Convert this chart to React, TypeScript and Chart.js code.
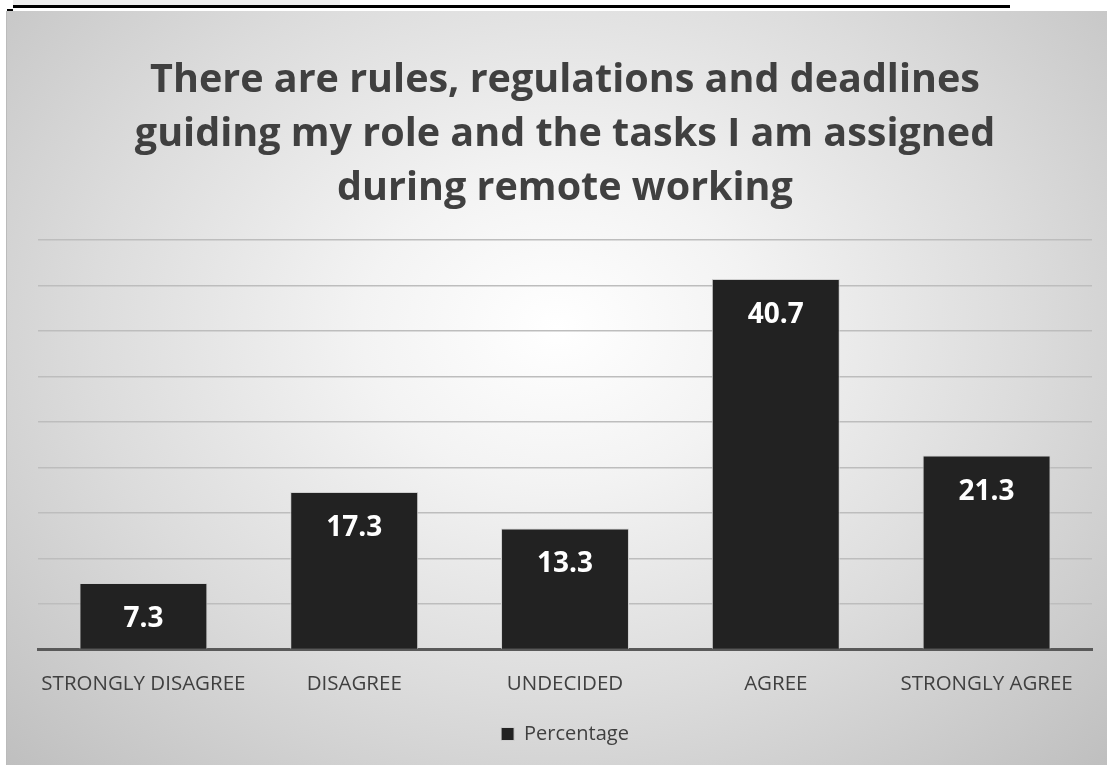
import React, { useEffect, useRef } from "react";
import { Chart, registerables } from "chart.js";

Chart.register(...registerables);

const categories = ["STRONGLY DISAGREE", "DISAGREE", "UNDECIDED", "AGREE", "STRONGLY AGREE"];
const percentages = [7.3, 17.3, 13.3, 40.7, 21.3];
const seriesName = "Percentage";
const titleLines = [
  "There are rules, regulations and deadlines",
  "guiding my role and the tasks I am assigned",
  "during remote working",
];
const yMin = 0;
const yMax = 45;
const yStep = 5;

const FONT = "'Open Sans', 'DejaVu Sans', sans-serif";

const valueLabels = {
  id: "valueLabels",
  afterDatasetsDraw(chart: any) {
    const ctx = chart.ctx;
    const meta = chart.getDatasetMeta(0);
    ctx.save();
    ctx.fillStyle = "#ffffff";
    ctx.font = `bold 28px ${FONT}`;
    ctx.textAlign = "center";
    ctx.textBaseline = "middle";
    meta.data.forEach((bar: any, i: number) => {
      const v = chart.data.datasets[0].data[i];
      ctx.fillText(String(v), bar.x, bar.y + 36);
    });
    ctx.restore();
  },
};

export default function App() {
  const ref = useRef<HTMLCanvasElement | null>(null);
  useEffect(() => {
    if (!ref.current) return;
    const chart = new Chart(ref.current, {
      type: "bar",
      data: {
        labels: categories,
        datasets: [
          {
            label: seriesName,
            data: percentages,
            backgroundColor: "#222222",
            borderColor: "#cfcfcf",
            borderWidth: 1,
            categoryPercentage: 1,
            barPercentage: 0.607,
          },
        ],
      },
      options: {
        animation: false,
        responsive: false,
        maintainAspectRatio: false,
        layout: { padding: { left: 31, right: 15, top: 0, bottom: 11 } },
        plugins: {
          title: {
            display: true,
            text: titleLines,
            color: "#404040",
            font: { family: FONT, size: 39.5, weight: "bold", lineHeight: 1.367 },
            padding: { top: 43, bottom: 24 },
          },
          legend: {
            display: true,
            position: "bottom",
            labels: {
              color: "#404040",
              font: { family: FONT, size: 20 },
              boxWidth: 13,
              boxHeight: 13,
              padding: 6,
            },
          },
          tooltip: { enabled: false },
        },
        scales: {
          x: {
            grid: { display: false, drawTicks: false },
            border: { display: true, color: "#595959", width: 3 },
            ticks: {
              color: "#404040",
              font: { family: FONT, size: 20.5 },
              padding: 22,
              maxRotation: 0,
              autoSkip: false,
            },
          },
          y: {
            min: yMin,
            max: yMax,
            ticks: { display: false, stepSize: yStep },
            grid: { color: "#bdbdbd", lineWidth: 1.5, drawTicks: false },
            border: { display: false },
          },
        },
      },
      plugins: [valueLabels],
    });
    return () => chart.destroy();
  }, []);

  return (
    <div style={{ position: "fixed", left: 0, top: 0, width: 1107, height: 765, background: "#ffffff", overflow: "hidden" }}>
      <div style={{ position: "absolute", left: 13, top: 0, width: 327, height: 5, background: "#eeeeee" }} />
      <div style={{ position: "absolute", left: 13, top: 5, width: 997, height: 3, background: "#000000" }} />
      <div style={{ position: "absolute", left: 7, top: 9, width: 6, height: 3, background: "#000000" }} />
      <div
        style={{
          position: "absolute",
          left: 6,
          top: 11,
          width: 1101,
          height: 754,
          borderLeft: "1px solid #bbbbbb",
          boxSizing: "border-box",
          background:
            "radial-gradient(ellipse farthest-corner at 50% 42%, #ffffff 0%, #f3f3f3 25%, #dcdcdc 60%, #bfbfbf 100%)",
        }}
      >
        <canvas ref={ref} width={1100} height={754} style={{ display: "block" }} />
      </div>
    </div>
  );
}
